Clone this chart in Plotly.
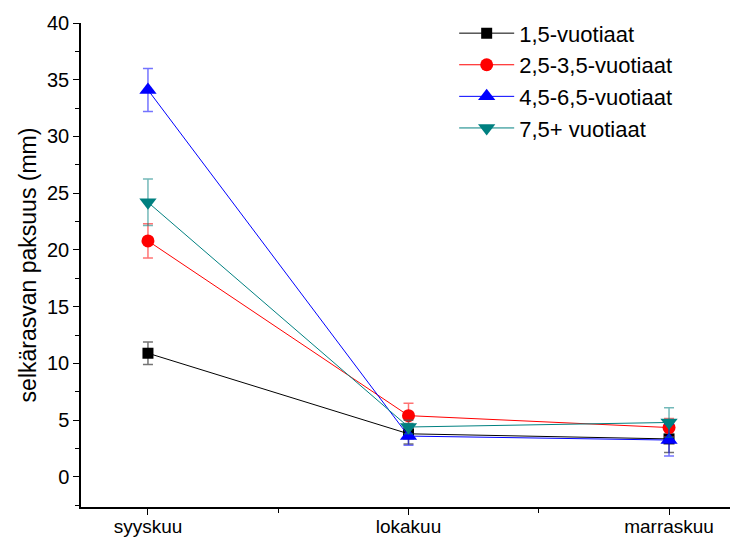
import plotly.graph_objects as go

# Months on the x axis
months = ["syyskuu", "lokakuu", "marraskuu"]

# Mean back-fat thickness (mm) per age group, with error (±)
age_1_5 = [10.9, 3.8, 3.35]
age_1_5_err = [1.0, 0.9, 1.2]

age_2_5_3_5 = [20.8, 5.4, 4.35]
age_2_5_3_5_err = [1.5, 1.1, 0.8]

age_4_5_6_5 = [34.1, 3.6, 3.25]
age_4_5_6_5_err = [1.9, 0.8, 1.4]

age_7_5_plus = [24.2, 4.4, 4.8]
age_7_5_plus_err = [2.05, 0.6, 1.3]

series_names = ["1,5-vuotiaat", "2,5-3,5-vuotiaat", "4,5-6,5-vuotiaat", "7,5+ vuotiaat"]

series = [
    (series_names[0], age_1_5, age_1_5_err, "#000000", "rgba(0,0,0,0.55)", "square", 11),
    (series_names[1], age_2_5_3_5, age_2_5_3_5_err, "#FF0000", "rgba(255,0,0,0.55)", "circle", 13),
    (series_names[2], age_4_5_6_5, age_4_5_6_5_err, "#0000FF", "rgba(0,0,255,0.55)", "triangle-up", 15),
    (series_names[3], age_7_5_plus, age_7_5_plus_err, "#008080", "rgba(0,128,128,0.55)", "triangle-down", 15),
]

x_pos = list(range(len(months)))

fig = go.Figure()
for name, vals, errs, color, errcolor, symbol, size in series:
    fig.add_trace(go.Scatter(
        x=x_pos, y=vals, name=name, mode="lines+markers",
        line=dict(color=color, width=1),
        marker=dict(symbol=symbol, size=size, color=color, line=dict(width=0)),
        error_y=dict(type="data", array=errs, visible=True,
                     color=errcolor, thickness=1.5, width=5),
    ))

font_family = "Liberation Sans, Arial, sans-serif"

fig.update_layout(
    width=730, height=540,
    margin=dict(l=81, r=0, t=23, b=33),
    paper_bgcolor="white", plot_bgcolor="white",
    font=dict(family=font_family, size=19, color="black"),
    showlegend=True,
    legend=dict(
        x=0.575, y=1.022, xanchor="left", yanchor="top",
        font=dict(size=22, color="black"),
        bgcolor="rgba(0,0,0,0)", itemwidth=55, tracegroupgap=0,
    ),
    xaxis=dict(
        range=[-0.257, 2.234],
        tickvals=x_pos, ticktext=months,
        showline=True, linecolor="black", linewidth=1.5,
        ticks="outside", ticklen=6, tickwidth=1.2, tickcolor="black",
        showgrid=False, zeroline=False,
        tickfont=dict(size=19), ticklabelstandoff=-5,
        minor=dict(tickvals=[0.5, 1.5], ticks="outside", ticklen=4, tickcolor="black", tickwidth=1.2),
    ),
    yaxis=dict(
        range=[-2.65, 40],
        tickvals=[0, 5, 10, 15, 20, 25, 30, 35, 40],
        showline=True, linecolor="black", linewidth=1.5,
        ticks="outside", ticklen=6, tickwidth=1.2, tickcolor="black",
        showgrid=False, zeroline=False,
        tickfont=dict(size=20),
        minor=dict(dtick=2.5, tick0=0, ticks="outside", ticklen=4, tickcolor="black", tickwidth=1.2),
        title=dict(text="selkärasvan paksuus (mm)", font=dict(size=23), standoff=4),
    ),
)

fig.write_html("out.html")
